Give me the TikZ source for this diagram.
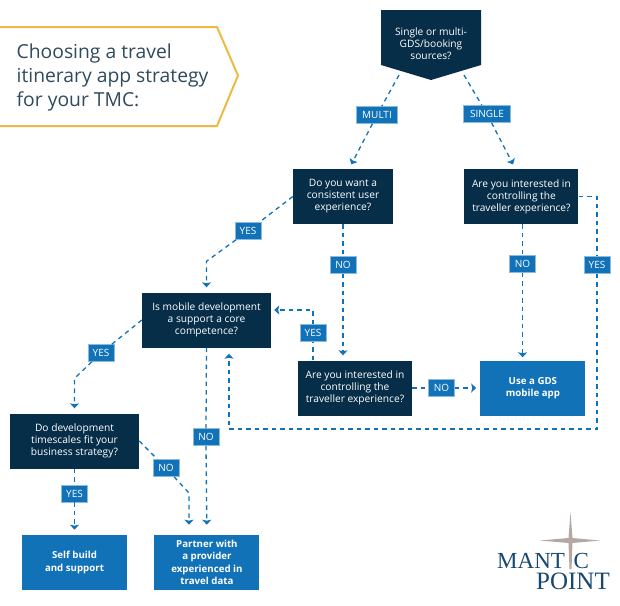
\documentclass[tikz,border=0pt]{standalone}
\usepackage{fontspec}
\setmainfont{Open Sans}
\newfontfamily\logofont{Liberation Serif}
\usepackage{tikz}
\usetikzlibrary{arrows.meta,positioning,calc}
\definecolor{deepnavy}{HTML}{062E49}
\definecolor{flowblue}{HTML}{1272B8}
\definecolor{tagedge}{HTML}{8DBBDD}
\definecolor{softgold}{HTML}{EDB944}
\definecolor{titleink}{HTML}{2F4A5C}
\definecolor{logoink}{HTML}{174870}
\definecolor{stargrey}{HTML}{B5A8A2}
\tikzset{
  qbox/.style={fill=deepnavy, text=white, font=\fontsize{10.2}{12}\selectfont, align=center, minimum height=55pt, inner sep=1pt},
  outbox/.style={fill=flowblue, text=white, font=\fontsize{9.7}{12.3}\selectfont\bfseries, align=center, minimum width=105pt, minimum height=55pt, inner sep=1pt},
  tag/.style={fill=flowblue, draw=tagedge, line width=0.5pt, text=white, font=\fontsize{10}{11}\selectfont, minimum width=26pt, minimum height=17pt, inner sep=1pt},
  flow/.style={draw=flowblue, line width=1.3pt, dash pattern=on 4.5pt off 4pt},
  tipflow/.style={flow, -{Stealth[length=5pt,width=9pt,inset=1pt]}, shorten >=#1},
  tipflow/.default=5pt
}

\begin{document}
\begin{tikzpicture}[x=1pt, y=-1pt]
  \useasboundingbox (0,0) rectangle (620,605);

  % title and first question
  \draw[softgold, line width=2pt] (0,27) -- (217,27) -- (238,75.5) -- (217,126) -- (0,126);
  \node[anchor=west, align=left, text=titleink, font=\fontsize{19.3}{24}\selectfont, inner sep=0pt] (title) at (16.5,77.5) {Choosing a travel\\itinerary app strategy\\for your TMC:};
  \fill[deepnavy] (381,10) -- (481,10) -- (481,65) -- (431,80) -- (381,65) -- cycle;
  \node[text=white, font=\fontsize{10.2}{12}\selectfont, align=center, inner sep=0pt] (q0) at (431,44) {Single or multi-\\GDS/booking\\sources?};
  \coordinate (q0m) at (399,75);
  \coordinate (q0s) at (464,75);

  % questions
  \node[qbox, minimum width=100pt] (q1) at (343,196.5) {Do you want a\\consistent user\\experience?};
  \node[qbox, minimum width=114pt, right=71pt of q1] (q2) {Are you interested in\\controlling the\\traveller experience?};
  \node[qbox, minimum width=129pt] (q3) at (206.5,320) {Is mobile development\\a support a core\\competence?};
  \node[qbox, minimum width=114pt] (q4) at (355,388) {Are you interested in\\controlling the\\traveller experience?};
  \node[qbox, minimum width=129pt] (q5) at (74.5,441) {Do development\\timescales fit your\\business strategy?};

  % answers
  \node[outbox, right=68pt of q4] (gds) {Use a GDS\\mobile app};
  \node[outbox, below=66pt of q5] (self) {Self build\\and support};
  \node[outbox, right=27pt of self] (partner) {Partner with\\a provider\\experienced in\\travel data};

  % labels on the connectors
  \node[tag, minimum width=41pt] (multi) at (377,115) {MULTI};
  \node[tag, minimum width=47pt] (single) at (487,114) {SINGLE};
  \node[tag] (yesA) at (248,231) {YES};
  \node[tag, below=32pt of q1] (noA) {NO};
  \node[tag, below=31pt of q2, xshift=1.2pt] (noB) {NO};
  \node[tag] (yesB) at (597,265) {YES};
  \node[tag] (yesC) at (313,333) {YES};
  \node[tag, right=16pt of q4] (noC) {NO};
  \node[tag] (yesD) at (101,353) {YES};
  \node[tag] (noD) at (206,437) {NO};
  \node[tag] (noE) at (166,468) {NO};
  \node[tag, below=16pt of q5] (yesE) {YES};

  % bends
  \coordinate (bendA) at ($(q3.north)+(0,-31)$);
  \coordinate (bendB) at ($(q5.north)+(0,-35)$);
  \coordinate (bendC) at (189,493);

  \draw[tipflow] (q0m) -- (multi) -- ($(q1.north)+(6,0)$);
  \draw[tipflow] (q0s) -- (single) -- ($(q2.north)+(-6,0)$);
  \draw[tipflow] (q1.west) -- (yesA) -- (bendA) -- (q3.north);
  \draw[flow] (q1.south) -- (noA.north);
  \draw[tipflow] (noA.south) -- (noA.south |- q4.north);
  \draw[flow] (q2.south -| noB) -- (noB.north);
  \draw[tipflow=3pt] (noB.south) -- (noB.south |- gds.north);
  \draw[flow] (q2.east) -| (yesB.north);
  \draw[tipflow=6pt] (yesB.south) |- (229,429) -- ($(q3.south)+(22.5,0)$);
  \draw[flow] (q4.north -| yesC) -- (yesC.south);
  \draw[tipflow=3pt] (yesC.north) |- ($(q3.east)+(0,-10)$);
  \draw[flow] (q4.east) -- (noC.west);
  \draw[tipflow=4pt] (noC.east) -- (gds.west);
  \draw[tipflow] (q3.west) -- (yesD) -- (bendB) -- (q5.north);
  \draw[flow] (q3.south) -- (noD.north);
  \draw[tipflow=10pt] (noD.south) -- (partner.north);
  \draw[flow] (q5.south) -- (yesE.north);
  \draw[tipflow] (yesE.south) -- (self.north);
  \draw[tipflow=10pt] (q5.east) -- (noE) -- (bendC) -- (bendC |- partner.north);

  % logo
  \fill[stargrey] (570.5,512) -- (572.5,538) -- (600,540.5) -- (572.5,543) -- (571.5,569) -- (569.5,569) -- (568.5,543) -- (540,540.5) -- (568.5,538) -- cycle;
  \node[anchor=south west, inner sep=0pt, text=logoink, font=\fontsize{23}{23}\logofont] (logoA) at (497,569) {MANT};
  \node[anchor=south west, inner sep=0pt, text=logoink, font=\fontsize{23}{23}\logofont] (logoC) at (573.5,569) {C};
  \node[anchor=south east, inner sep=0pt, text=logoink, font=\fontsize{25}{25}\logofont] (logoB) at (610,590) {POINT};
\end{tikzpicture}
\end{document}
